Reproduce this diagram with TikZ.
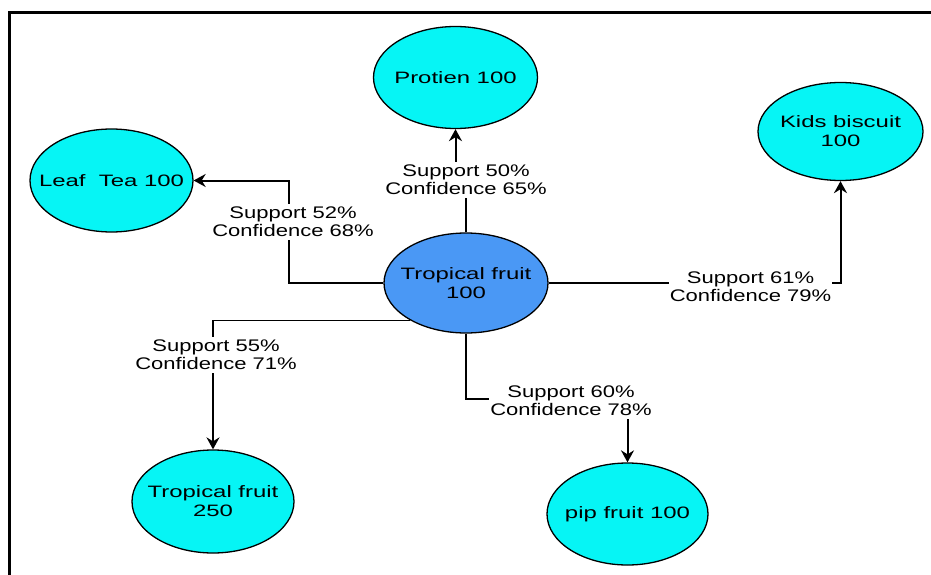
\documentclass[tikz,border=0pt]{standalone}
\usepackage{fontspec}
\setmainfont{Liberation Sans}
\newfontfamily\nodefont{Liberation Sans}[FakeStretch=1.45]
\newfontfamily\lblfont{Liberation Sans}[FakeStretch=1.31]
\usetikzlibrary{shapes.geometric,arrows.meta}
\definecolor{cyanfill}{RGB}{6,245,245}
\definecolor{bluefill}{RGB}{74,152,245}
\tikzset{
  item/.style={ellipse, draw=black, line width=1.3pt, fill=cyanfill, inner sep=0pt,
    label={[align=center, inner sep=0pt, font=\nodefont\fontsize{16.5}{19}\selectfont]center:#1}},
  hub/.style={item=#1, fill=bluefill},
  lbl/.style={inner xsep=1pt, inner ysep=3pt, align=center,
    font=\lblfont\fontsize{16.8}{18}\selectfont},
  link/.style={line width=1.3pt},
  arr/.style={line width=2pt, -{Stealth[length=12pt,width=13pt,inset=4pt]}},
  frame/.style={line width=3pt, line cap=rect}
}
\begin{document}
\begin{tikzpicture}[x=1pt,y=-1pt]
\useasboundingbox (0,0) rectangle (931,575);
\coordinate (f1) at (931,13);
\coordinate (f2) at (9,13);
\coordinate (f3) at (9,575);
\draw[frame] (f1) -- (f2) -- (f3);

\node[hub={Tropical fruit\\100}, minimum width=164pt, minimum height=100pt] (c) at (466,283) {};
\node[item={Protien 100}, minimum width=164pt, minimum height=102pt] (prot) at (455.5,77.5) {};
\node[item={Leaf\ \ Tea 100}, minimum width=163pt, minimum height=103pt] (leaf) at (111.5,180.5) {};
\node[item={Kids biscuit\\100}, minimum width=165pt, minimum height=98pt] (kids) at (840.5,131.5) {};
\node[item={Tropical fruit\\250}, minimum width=162pt, minimum height=103pt] (t250) at (213,501.5) {};
\node[item={pip fruit 100}, minimum width=161pt, minimum height=102pt] (pip) at (627.5,514) {};

\node[lbl] (l1) at (466,180) {Support 50\%\\Confidence 65\%};
\node[lbl] (l2) at (293,222) {Support 52\%\\Confidence 68\%};
\node[lbl] (l3) at (750.5,287) {Support 61\%\\Confidence 79\%};
\node[lbl] (l4) at (216,355) {Support 55\%\\Confidence 71\%};
\node[lbl] (l5) at (571,401) {Support 60\%\\Confidence 78\%};

\coordinate (v2) at (289,222);
\coordinate (v5) at (466,399);

% Protien
\draw[link] (c.north) -- (c.north |- l1.south);
\draw[arr] (prot.south |- l1.north) -- (prot.south);
% Leaf Tea
\draw[link] (c.west) -| (v2 |- l2.south);
\draw[arr] (v2 |- l2.north) |- (leaf.east);
% Kids biscuit
\draw[link] (c.east) -- (l3.west |- c.east);
\draw[arr] (l3.east |- c.east) -| (kids.south);
% Tropical fruit 250
\draw[link] (c.214) -| (t250.north |- l4.north);
\draw[arr] (t250.north |- l4.south) -- (t250.north);
% pip fruit
\draw[link] (c.south) |- (l5.west |- v5);
\draw[arr] (pip.north |- l5.south) -- (pip.north);
\end{tikzpicture}
\end{document}
